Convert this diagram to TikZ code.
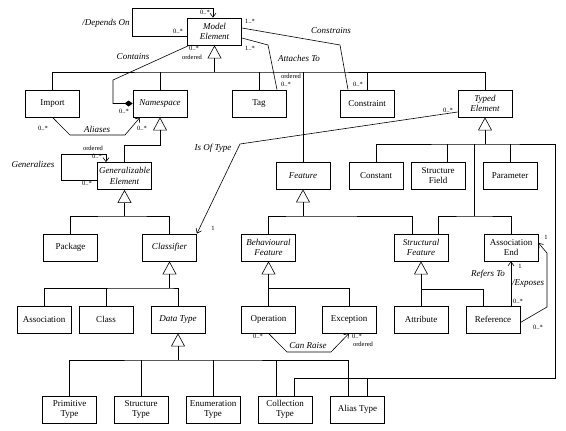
\documentclass[tikz,border=0pt]{standalone}
\usepackage{fontspec}
\setmainfont{Liberation Serif}
\usetikzlibrary{arrows.meta}

\tikzset{
  umlclass/.style={draw, line width=0.8pt, minimum width=54pt, minimum height=27pt,
    inner sep=1pt, align=center, font=\fontsize{9}{10.5}\selectfont},
  absclass/.style={umlclass, font=\fontsize{9}{10.5}\selectfont\itshape},
  lnk/.style={line width=0.6pt},
  gen/.style={lnk, -{Triangle[open, width=14pt, length=13pt]}},
  nav/.style={lnk, -{Straight Barb[length=4pt, width=6pt]}},
  comp/.style={lnk, -{Diamond[length=8pt, width=6pt]}},
  rname/.style={font=\fontsize{9}{10}\selectfont\itshape, inner sep=0pt},
  mult/.style={font=\fontsize{6.5}{7}\selectfont, inner sep=0pt},
}

\begin{document}
\begin{tikzpicture}[x=1pt, y=-1pt]
\useasboundingbox (0,0) rectangle (566,431);

\node[absclass] (me) at (214.5,31.5) {Model\\Element};
\node[umlclass] (import) at (52.5,103.5) {Import};
\node[absclass] (ns) at (160,103.5) {Namespace};
\node[umlclass] (tag) at (259,103.5) {Tag};
\node[umlclass] (constraint) at (367,103.5) {Constraint};
\node[absclass] (typed) at (485,103.5) {Typed\\Element};
\node[absclass] (genel) at (124.5,176) {Generalizable\\Element};
\node[absclass] (feature) at (303,175.5) {Feature};
\node[umlclass] (constant) at (376,175.5) {Constant};
\node[umlclass] (sfield) at (438,175.5) {Structure\\Field};
\node[umlclass] (param) at (510,175.5) {Parameter};
\node[umlclass] (package) at (70.5,247.5) {Package};
\node[absclass] (classifier) at (169.5,247.5) {Classifier};
\node[absclass] (bfeature) at (268.5,247.5) {Behavioural\\Feature};
\node[absclass] (stfeature) at (421,247.5) {Structural\\Feature};
\node[umlclass] (assocend) at (511,247.5) {Association\\End};
\node[umlclass] (assoc) at (44,319.5) {Association};
\node[umlclass] (class) at (106,319.5) {Class};
\node[absclass] (datatype) at (178,319.5) {Data Type};
\node[umlclass] (operation) at (268.5,319.5) {Operation};
\node[umlclass] (exception) at (349,319.5) {Exception};
\node[umlclass] (attribute) at (421,319.5) {Attribute};
\node[umlclass] (reference) at (493,319.5) {Reference};
\node[umlclass] (primitive) at (69.5,409.5) {Primitive\\Type};
\node[umlclass] (structtype) at (141,409.5) {Structure\\Type};
\node[umlclass] (enumtype) at (213,409.5) {Enumeration\\Type};
\node[umlclass] (colltype) at (285,409.5) {Collection\\Type};
\node[umlclass] (aliastype) at (357.5,409.5) {Alias Type};

\coordinate (meBar) at (214.5,72);
\draw[gen] (meBar) -- (me.south);
\draw[lnk] (import.north) |- (meBar) -| (typed.north);
\draw[lnk] (ns.north) -- (ns.north |- meBar);
\draw[lnk] (tag.north) -- (tag.north |- meBar);
\draw[lnk] (constraint.north) -- (constraint.north |- meBar);
\draw[lnk] (feature.north) -- (feature.north |- meBar);

\draw[gen] (genel.north) -- ++(0,-17) -| (ns.south);

\coordinate (geBar) at (124.5,216);
\draw[gen] (geBar) -- (genel.south);
\draw[lnk] (package.north) |- (geBar) -| (classifier.north);

\coordinate (clBar) at (169.5,288);
\draw[gen] (clBar) -- (classifier.south);
\draw[lnk] (assoc.north) |- (clBar) -| (datatype.north);
\draw[lnk] (class.north) -- (class.north |- clBar);

\coordinate (dtBar) at (178,360);
\draw[gen] (dtBar) -- (datatype.south);
\draw[lnk] (primitive.north) |- (dtBar) -| ([xshift=-9]aliastype.north);
\draw[lnk] (structtype.north) -- (structtype.north |- dtBar);
\draw[lnk] (enumtype.north) -- (enumtype.north |- dtBar);
\draw[lnk] ([xshift=-9]colltype.north) -- ++(0,-36);

\coordinate (ftBar) at (303,216);
\draw[gen] (ftBar) -- (feature.south);
\draw[lnk] (bfeature.north) |- (ftBar) -| ([xshift=-9]stfeature.north);

\coordinate (bfBar) at (268.5,288);
\draw[gen] (bfBar) -- (bfeature.south);
\draw[lnk] (operation.north) -- (bfBar) -| (exception.north);

\coordinate (sfBar) at (421,289);
\draw[gen] (sfBar) -- (stfeature.south);
\draw[lnk] (attribute.north) -- (sfBar) -| ([xshift=-10]reference.north);

\coordinate (teBar) at (485,144);
\coordinate (teMid) at (474,216);
\coordinate (teLow) at (555,378);
\draw[gen] (teBar) -- (typed.south);
\draw[lnk] (constant.north) |- (teBar) -| (teLow) -| ([xshift=9]colltype.north);
\draw[lnk] ([xshift=9]sfield.north) -- ++(0,-18);
\draw[lnk] (param.north) -- (param.north |- teBar);
\draw[lnk] (teMid |- teBar) -- (teMid);
\draw[lnk] ([xshift=17]stfeature.north) |- (teMid) -| (assocend.north);
\draw[lnk] ([xshift=9.5]aliastype.north) |- (teLow);

\coordinate (depA) at (132,8);
\draw[nav] ([yshift=-4.5]me.west) -| (depA) -| ([xshift=-1.5]me.north);
\coordinate (conA) at (113,80);
\coordinate (conB) at (113,103.5);
\draw[comp] ([xshift=2]me.south west) -- (conA) -- (conB) -- (ns.west);
\coordinate (attA) at (268,45);
\draw[lnk] ([yshift=-6.5]me.east) -- (attA) -- ([xshift=18]tag.north);
\coordinate (csA) at (340,45);
\draw[lnk] ([yshift=3.5]me.east) -- (csA) -- ([xshift=-19]constraint.north);
\coordinate (alA) at (70,135);
\coordinate (alB) at (125,135);
\draw[nav] (import.south) -- (alA) -- (alB) -- ([xshift=-20]ns.south);
\coordinate (genA) at (61,154);
\draw[nav] ([yshift=-4]genel.west) -| (genA) -| ([xshift=-18.5]genel.north);
\coordinate (ioA) at (240,144);
\draw[nav] ([yshift=-8.5]typed.west) -- (ioA) -- (classifier.north east);
\coordinate (crA) at (287,352);
\coordinate (crB) at (331,352);
\draw[nav] (operation.south) -- (crA) -- (crB) -- (exception.south);
\draw[nav] ([xshift=18]reference.north) -- (assocend.south);
\coordinate (exA) at (547,307);
\coordinate (exB) at (547,253);
\draw[nav] ([yshift=-3]reference.east) -- (exA) -- (exB) -- ([yshift=4.5]assocend.east);

\node[rname] (depName) at (106,23) {/Depends On};
\node[mult] (depM1) at (205,12) {0..*};
\node[mult] (depM2) at (178,31) {0..*};
\node[rname] (conName) at (133,57) {Contains};
\node[mult] (conM1) at (194,48) {0..*};
\node[mult] (conO1) at (192,57) {ordered};
\node[mult] (conM2) at (124,111) {0..*};
\node[rname] (csName) at (331,31) {Constrains};
\node[mult] (csM1) at (250,21) {1..*};
\node[mult] (csM2) at (358,84) {0..*};
\node[rname] (attName) at (299,58) {Attaches To};
\node[mult] (attM1) at (250,48) {1..*};
\node[mult] (attO2) at (291,76) {ordered};
\node[mult] (attM2) at (286,84) {0..*};
\node[rname] (alName) at (97,129) {Aliases};
\node[mult] (alM1) at (43,128) {0..*};
\node[mult] (alM2) at (142,128) {0..*};
\node[rname] (genName) at (33,164) {Generalizes};
\node[mult] (genO1) at (93,148) {ordered};
\node[mult] (genM1) at (97,156) {0..*};
\node[mult] (genM2) at (87,183) {0..*};
\node[rname] (ioName) at (213,148) {Is Of Type};
\node[mult] (ioM1) at (448,110) {0..*};
\node[mult] (ioM2) at (213,228) {1};
\node[rname] (crName) at (308,346) {Can Raise};
\node[mult] (crM1) at (258,336) {0..*};
\node[mult] (crM2) at (357,336) {0..*};
\node[mult] (crO2) at (363,344) {ordered};
\node[rname] (rtName) at (488,274) {Refers To};
\node[mult] (rtM1) at (520,266) {1};
\node[rname] (exName) at (528,283) {/Exposes};
\node[mult] (rtM2) at (518,301) {0..*};
\node[mult] (exM1) at (546,237) {1};
\node[mult] (exM2) at (538,327) {0..*};
\end{tikzpicture}
\end{document}
